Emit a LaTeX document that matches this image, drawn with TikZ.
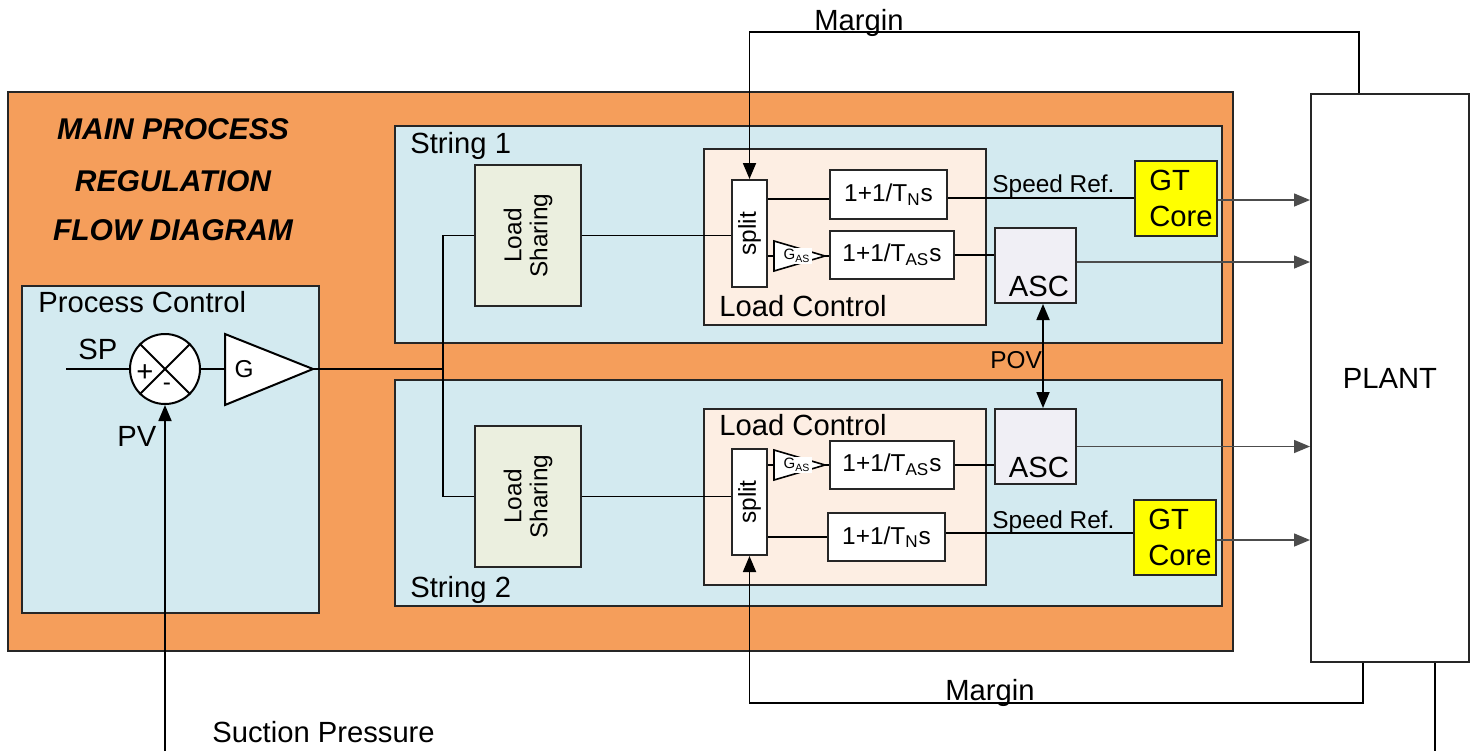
\documentclass[tikz,border=0pt]{standalone}
\usepackage{fontspec}
\setmainfont{Liberation Sans}
\usetikzlibrary{arrows.meta,positioning,fit,calc}
\definecolor{procorange}{HTML}{F59E5B}
\definecolor{procblue}{HTML}{D3EAF0}
\definecolor{sharegreen}{HTML}{EBEFDF}
\definecolor{loadpeach}{HTML}{FDEEE3}
\definecolor{asclilac}{HTML}{F0EFF5}
\definecolor{gtyellow}{HTML}{FFFF00}

\tikzset{
  area/.style={draw=black!85, line width=1pt, inner sep=0pt},
  blockbox/.style={draw=black!85, line width=1pt, fill=white, inner sep=0pt},
  wire/.style={line width=0.9pt},
  arr/.style={-{Triangle[length=8pt,width=6.5pt]}},
  feed/.style={line width=0.75pt, draw=black!70, arr},
  txt/.style={font=\fontsize{14.6pt}{17pt}\selectfont, inner sep=0pt},
  smalltxt/.style={font=\fontsize{12.2pt}{13pt}\selectfont, inner sep=0pt},
  titletxt/.style={font=\fontsize{15pt}{17pt}\selectfont\bfseries\itshape, inner sep=0pt},
  gaintxt/.style={font=\fontsize{7.5pt}{8pt}\selectfont, fill=white, inner sep=0.6pt},
}

\begin{document}
\begin{tikzpicture}[x=0.5pt,y=-0.5pt]
  \useasboundingbox (0,0) rectangle (1473,751);

  % Cadres
  \node[area, fill=procorange, fit={(8,92) (1233,651)}] (main) {};
  \node[area, fill=procblue, fit={(22,286) (319,613)}] (proc) {};
  \node[area, fill=procblue, fit={(395,126) (1222,343)}] (str1) {};
  \node[area, fill=procblue, fit={(395,380) (1222,606)}] (str2) {};
  \node[area, fill=white, fit={(1311,94) (1469,662)}] (plant) {};
  \node[txt] (plantlab) at (plant) {PLANT};

  \foreach \t/\y in {MAIN PROCESS/139, REGULATION/191, FLOW DIAGRAM/240}
    \node[titletxt, anchor=base] (title\y) at (173,\y) {\t};

  \node[txt, anchor=base west] (proclab) at (38,312) {Process Control};
  \node[txt, anchor=base west] (str1lab) at (410,153) {String 1};
  \node[txt, anchor=base west] (str2lab) at (410,597) {String 2};

  % Process Control
  \node[draw, circle, line width=1pt, fill=white, minimum size=35pt, inner sep=0pt]
       (sum) at (165,369) {};
  \draw[line width=1pt] (sum.north west) -- (sum.south east)
                        (sum.north east) -- (sum.south west);
  \node[txt] (plus) at (145,373) {+};
  \node[smalltxt] (minus) at (167,387) {-};
  \node[txt, anchor=base west] (sp) at (78,359) {SP};
  \node[txt, anchor=base west] (pv) at (117,446) {PV};
  \draw[line width=1pt, fill=white] (225,334) -- (313,369) -- (225,405) -- cycle;
  \coordinate (gin) at (225,369);
  \coordinate (gout) at (313,369);
  \node[smalltxt] (glab) at (244,369) {G};
  \coordinate (spin) at (66,369);
  \coordinate (suction) at (165,751);
  \coordinate (bus) at (443,369);

  % Strings
  \foreach \s/\ya/\yb in {1/165/306, 2/426/567} {
    \node[area, fill=sharegreen, fit={(475,\ya) (581,\yb)}] (ls\s) {};
    \node[smalltxt, rotate=90, align=center] at (ls\s) {Load\\Sharing};
  }
  \node[area, fill=loadpeach, fit={(704,149) (986,325)}] (lc1) {};
  \node[area, fill=loadpeach, fit={(704,409) (986,585)}] (lc2) {};
  \node[txt, anchor=base west] (lc1lab) at (719,316) {Load Control};
  \node[txt, anchor=base west] (lc2lab) at (719,435) {Load Control};

  \node[blockbox, fit={(732,180) (767,287)}] (split1) {};
  \node[blockbox, fit={(732,449) (767,555)}] (split2) {};
  \node[smalltxt, rotate=90] at (split1) {split};
  \node[smalltxt, rotate=90] at (split2) {split};

  \node[blockbox, fit={(830,170) (947,219)}] (tn1) {};
  \node[blockbox, fit={(830,231) (954,279)}] (tas1) {};
  \node[blockbox, fit={(828,513) (945,561)}] (tn2) {};
  \node[blockbox, fit={(830,441) (954,489)}] (tas2) {};
  \foreach \b/\sub in {tn1/N, tas1/AS, tn2/N, tas2/AS}
    \node[smalltxt] (\b lab) at (\b) {1+1/T\textsubscript{\sub}s};

  % Gains G_AS
  \foreach \s/\y in {1/256, 2/465} {
    \draw[line width=0.8pt, fill=white] (774,\y-15) -- (825,\y) -- (774,\y+15) -- cycle;
    \coordinate (gas\s in) at (774,\y);
    \coordinate (gas\s out) at (825,\y);
    \node[gaintxt] (gas\s lab) at (797,\y) {G\textsubscript{AS}};
  }

  \node[area, fill=asclilac, fit={(995,228) (1076,303)}] (asc1) {};
  \node[area, fill=asclilac, fit={(995,409) (1076,484)}] (asc2) {};
  \node[txt, anchor=base] at ([xshift=1.75pt,yshift=4pt]asc1.south) {ASC};
  \node[txt, anchor=base] at ([xshift=1.75pt,yshift=4pt]asc2.south) {ASC};

  \node[area, fill=gtyellow, fit={(1135,161) (1217,236)}] (gt1) {};
  \node[area, fill=gtyellow, fit={(1134,500) (1216,575)}] (gt2) {};
  \node[txt, anchor=base west] at (1149,190) {GT};
  \node[txt, anchor=base west] at (1149,226) {Core};
  \node[txt, anchor=base west] at (1148,529) {GT};
  \node[txt, anchor=base west] at (1148,565) {Core};

  % Liaisons
  \draw[wire] (spin) -- (sum.west);
  \draw[wire] (sum.east) -- (gin);
  \draw[wire] (gout) -- (bus);
  \draw[wire] (ls1.west) -| (bus) |- (ls2.west);
  \draw[wire] (ls1.east) -- (ls1.east -| split1.west);
  \draw[wire] (ls2.east) -- (ls2.east -| split2.west);
  \draw[wire] (split1.east |- 0,199) -- (tn1.west |- 0,199);
  \draw[wire] (split2.east |- tn2.west) -- (tn2.west);
  \draw[wire] (split1.east |- gas1in) -- (gas1in);
  \draw[wire] (split2.east |- gas2in) -- (gas2in);
  \draw[wire] (gas1out) -- (gas1out -| tas1.west);
  \draw[wire] (gas2out) -- (gas2out -| tas2.west);
  \draw[wire] (tn1.east |- 0,198) -- (gt1.west |- 0,198);
  \draw[wire] (tn2.east |- 0,533) -- (gt2.west |- 0,533);
  \draw[wire] (tas1.east) -- (tas1.east -| asc1.west);
  \draw[wire] (tas2.east) -- (tas2.east -| asc2.west);
  \node[smalltxt, anchor=base west] (spd1) at (992,192) {Speed Ref.};
  \node[smalltxt, anchor=base west] (spd2) at (992,528) {Speed Ref.};

  \draw[feed] (gt1.east |- 0,200) -- (plant.west |- 0,200);
  \draw[feed] (asc1.east |- 0,262) -- (plant.west |- 0,262);
  \draw[feed] (asc2.east) -- (asc2.east -| plant.west);
  \draw[feed] (gt2.east |- 0,540) -- (plant.west |- 0,540);

  \draw[wire, {Triangle[length=8pt,width=6.5pt]}-{Triangle[length=8pt,width=6.5pt]}]
       ([xshift=3.75pt]asc1.south) -- ([xshift=3.75pt]asc2.north);
  \node[smalltxt, anchor=base west] (pov) at (990,368) {POV};

  % Marges
  \coordinate (mtop) at (1000,32);
  \coordinate (mbot) at (1000,703);
  \draw[wire, arr] ([xshift=-15.5pt]plant.north) |- (mtop) -| (split1.north);
  \draw[wire, arr] ([xshift=-13.5pt]plant.south) |- (mbot) -| (split2.south);
  \node[txt, anchor=base] (mtoplab) at (859,30) {Margin};
  \node[txt, anchor=base] (mbotlab) at (990,700) {Margin};

  \coordinate (flowout) at (1435,751);
  \draw[wire] ([xshift=22.5pt]plant.south) -- (flowout);
  \draw[wire, arr] (suction) -- (sum.south);
  \node[txt, anchor=base west] (suclab) at (212,742) {Suction Pressure};

\end{tikzpicture}
\end{document}
